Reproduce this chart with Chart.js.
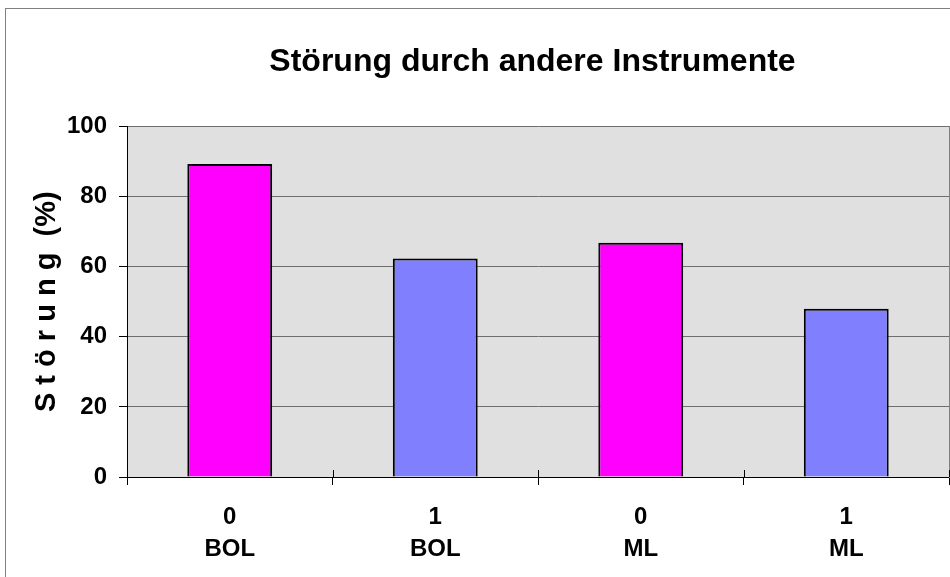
<!DOCTYPE html>
<html>
<head>
<meta charset="utf-8">
<script src="https://cdn.jsdelivr.net/npm/chart.js@4/dist/chart.umd.min.js"></script>
<style>
  html, body { margin: 0; padding: 0; width: 950px; height: 577px; overflow: hidden; background: #fff; }
  #wrap { position: absolute; left: 0; top: 0; width: 1065px; height: 600px; }
</style>
</head>
<body>
<div id="wrap"><canvas id="c" width="1065" height="600"></canvas></div>
<script>
const levels = ['0', '1', '0', '1'];
const groups = ['BOL', 'BOL', 'ML', 'ML'];
const values = [89.3, 62.3, 66.8, 48.0];
const barColors = ['#FF00FF', '#8080FF', '#FF00FF', '#8080FF'];
const yTicks = [0, 20, 40, 60, 80, 100];
const chartTitle = 'Störung durch andere Instrumente';
const yTitle = 'S t ö r u n g  (%)';

const labels = levels.map((l, i) => [l, groups[i]]);
const FONT = "'Liberation Sans', Arial, sans-serif";

const framePlugin = {
  id: 'frame',
  beforeDraw(chart) {
    const ctx = chart.ctx, a = chart.chartArea;
    ctx.save();
    ctx.fillStyle = '#fff';
    ctx.fillRect(0, 0, chart.width, chart.height);
    ctx.strokeStyle = '#808080';
    ctx.lineWidth = 1;
    ctx.strokeRect(5.5, 8.5, chart.width + 50, chart.height + 50);
    ctx.fillStyle = '#E0E0E0';
    ctx.fillRect(a.left, a.top, a.right - a.left, a.bottom - a.top);
    ctx.restore();
  },
  afterDraw(chart) {
    const ctx = chart.ctx, x = chart.scales.x, a = chart.chartArea;
    const step = x.getPixelForValue(1) - x.getPixelForValue(0);
    ctx.save();
    ctx.strokeStyle = '#000';
    ctx.lineWidth = 1;
    for (let i = 0; i <= labels.length; i++) {
      const px = Math.round(x.getPixelForValue(0) - step / 2 + i * step) + 0.5;
      ctx.beginPath();
      ctx.moveTo(px, a.bottom - 7);
      ctx.lineTo(px, a.bottom);
      ctx.stroke();
    }
    ctx.restore();
  }
};

new Chart(document.getElementById('c'), {
  type: 'bar',
  data: {
    labels: labels,
    datasets: [{
      data: values,
      backgroundColor: barColors,
      borderColor: '#000',
      borderWidth: 2,
      categoryPercentage: 1,
      barPercentage: 0.413
    }]
  },
  options: {
    responsive: false,
    animation: false,
    events: [],
    layout: { padding: 0 },
    plugins: {
      legend: { display: false },
      tooltip: { enabled: false },
      title: {
        display: true,
        text: chartTitle,
        color: '#000',
        font: { family: FONT, size: 32, weight: 'bold', lineHeight: 1.2 },
        padding: { top: 43, bottom: 45 }
      }
    },
    scales: {
      x: {
        grid: { display: true, drawOnChartArea: false, offset: true, tickLength: 8, color: '#000', tickColor: '#000' },
        border: { display: true, color: '#000', width: 1 },
        ticks: { color: '#000', padding: 16, maxRotation: 0, font: { family: FONT, size: 24, weight: 'bold', lineHeight: 1.33 } },
        afterFit(s) { s.height = 123; }
      },
      y: {
        min: 0, max: 100,
        afterBuildTicks(s) { s.ticks = yTicks.map(v => ({ value: v })); },
        grid: { color: '#6e6e6e', lineWidth: 1, tickLength: 8, tickColor: '#000' },
        border: { display: true, color: '#000', width: 1 },
        ticks: { color: '#000', padding: 12, font: { family: FONT, size: 24, weight: 'bold' } },
        title: {
          display: true,
          text: yTitle,
          color: '#000',
          font: { family: FONT, size: 29, weight: 'bold', lineHeight: 1.2 },
          padding: { top: 30, bottom: 0 }
        },
        afterFit(s) { s.width = 127; }
      },
      yr: {
        type: 'linear',
        position: 'right',
        min: 0, max: 100,
        grid: { display: false },
        ticks: { display: false },
        border: { display: true, color: '#808080', width: 1 },
        afterFit(s) { s.width = 116; }
      }
    }
  },
  plugins: [framePlugin]
});
</script>
</body>
</html>
